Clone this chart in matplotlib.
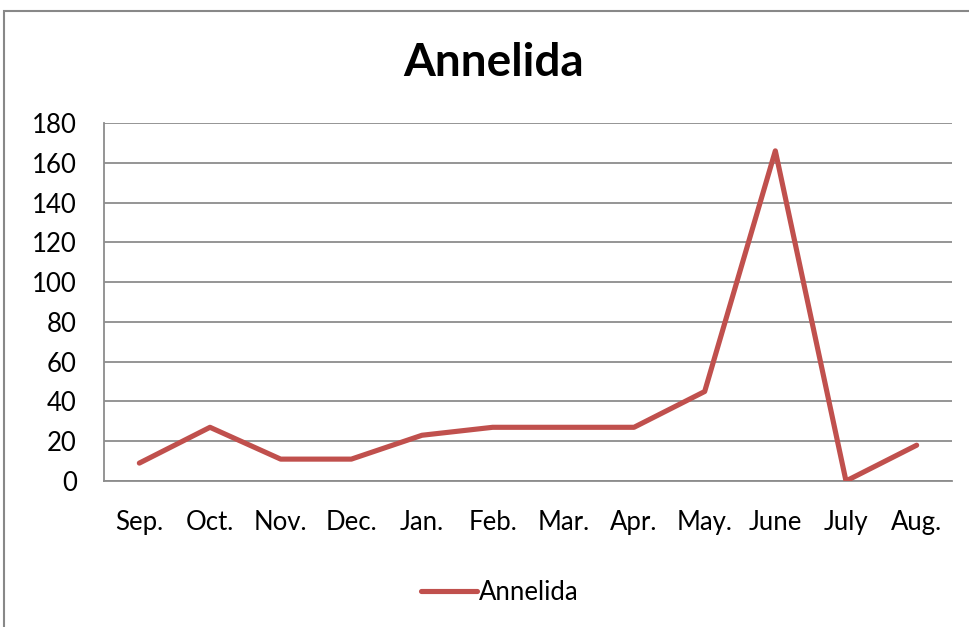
"""
Annelida monthly counts, line chart
"""

import matplotlib
import matplotlib.pyplot as plt
from matplotlib.patches import Rectangle
matplotlib.use("AGG")

months = ['Sep.', 'Oct.', 'Nov.', 'Dec.', 'Jan.', 'Feb.', 'Mar.', 'Apr.',
          'May.', 'June', 'July', 'Aug.']
annelida = [9, 27, 11, 11, 23, 27, 27, 27, 45, 166, 0, 18]
y_ticks = [0, 20, 40, 60, 80, 100, 120, 140, 160, 180]

plt.rcParams['font.family'] = ['Lato', 'DejaVu Sans']

W, H = 969, 627
fig = plt.figure(figsize=(W / 100, H / 100), dpi=100)
ax = fig.add_axes([104 / W, 1 - 481 / H, (952 - 104) / W, (481 - 123) / H])

x = range(len(months))
ax.plot(x, annelida, color='#C0504D', lw=3.7, solid_joinstyle='round',
        solid_capstyle='round', label='Annelida', zorder=3)

ax.set_xlim(-0.5, len(months) - 0.5)
ax.set_ylim(0, 180)
ax.set_xticks(list(x))
ax.set_xticklabels(months)
ax.set_yticks(y_ticks)
ax.grid(axis='y', color='#8C8C8C', lw=1.3)
ax.set_axisbelow(True)
ax.tick_params(axis='both', length=0, labelsize=18.5)
ax.tick_params(axis='y', pad=19.5)
ax.tick_params(axis='x', pad=21)
for side in ['top', 'right']:
    ax.spines[side].set_visible(False)
for side in ['left', 'bottom']:
    ax.spines[side].set_color('#8C8C8C')
    ax.spines[side].set_linewidth(1.3)

fig.text(494 / W, 1 - 63 / H, 'Annelida', ha='center', va='center',
         fontsize=33, fontweight='bold')

fig.legend(loc='center', bbox_to_anchor=(500 / W, 1 - 592 / H), frameon=False,
           fontsize=18.5, handlelength=2.15, handletextpad=0.1)

# outer chart border (cut off on the right and bottom)
fig.patches.append(Rectangle((4 / W, -0.1), 1.2, 1.1 - 11 / H,
                             transform=fig.transFigure, fill=False,
                             edgecolor='#888888', lw=1.5))

plt.savefig('out.png', dpi=100)
